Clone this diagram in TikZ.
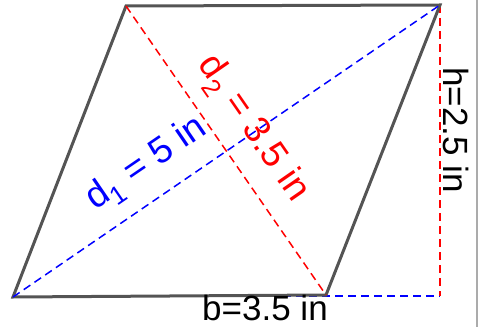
\documentclass[tikz,border=0pt]{standalone}
\usepackage{fontspec}
\setmainfont{Liberation Sans}
\begin{document}
\begin{tikzpicture}[x=1pt,y=1pt,
  edge/.style={draw=black!67,line width=3pt,line join=miter},
  dline/.style={line width=1.5pt,dash pattern=on 8pt off 5pt},
  lbl/.style={inner sep=0pt,font=\fontsize{35}{40}\selectfont},
  dlbl/.style={inner sep=0pt,font=\fontsize{37}{42}\selectfont}]
\useasboundingbox (0,0) rectangle (479,327);
\coordinate (BL) at (13,30);
\coordinate (BR) at (326,32);
\coordinate (TR) at (440,322);
\coordinate (TL) at (126,321);
\coordinate (F) at (440,31);
\coordinate (G) at (127,31);
\coordinate (R1) at (477,327);
\coordinate (R2) at (477,0);
\draw[line width=2pt,draw=black!33] (R1) -- (R2);
\draw[dline,blue] (G) -- (F);
\draw[dline,red] (TR) -- (F);
\draw[edge] (BL) -- (BR) -- (TR) -- (TL) -- cycle;
\draw[dline,blue] (BL) -- (TR);
\draw[dline,red] (TL) -- (BR);
\node[dlbl,blue,rotate=34.4] (d1) at (147,163) {d$_{\mathrm{1}}$ = 5 in};
\node[dlbl,red,rotate=-55.3] (d2) at (252,198) {d$_{\mathrm{2}}$ = 3.5 in};
\node[lbl,rotate=-90] (h) at (456,197) {h=2.5 in};
\node[lbl] (b) at (265,19) {b=3.5 in};
\end{tikzpicture}
\end{document}
